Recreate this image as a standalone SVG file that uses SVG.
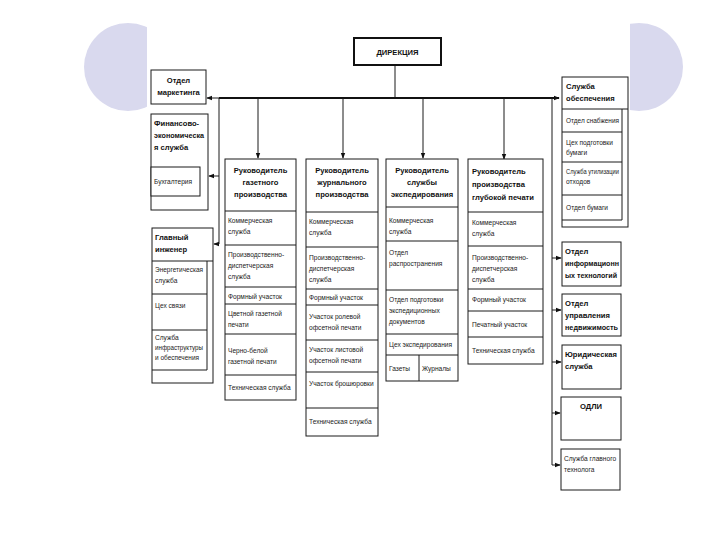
<svg xmlns="http://www.w3.org/2000/svg" width="720" height="540" viewBox="0 0 720 540">
<defs>
<style>
.bx{fill:#fff;stroke:#1a1a1a;stroke-width:1}
.ln{fill:none;stroke:#1a1a1a;stroke-width:1}
.t{font-family:"Liberation Sans Narrow","Liberation Sans",Arial,sans-serif;font-size:6.6px;fill:#222}
.h{font-family:"Liberation Sans Narrow","Liberation Sans",Arial,sans-serif;font-size:7.6px;font-weight:bold;fill:#111}
.c{text-anchor:middle}
</style>
<marker id="ar" viewBox="0 0 8 8" refX="7" refY="4" markerWidth="6" markerHeight="6" orient="auto" markerUnits="userSpaceOnUse"><path d="M0,1 L8,4 L0,7 z" fill="#111"/></marker>
</defs>
<rect width="720" height="540" fill="#fff"/>
<circle cx="128" cy="67" r="44" fill="#d9d9ee"/>
<circle cx="639" cy="67" r="44" fill="#d9d9ee"/>
<rect x="147" y="0" width="483" height="540" fill="#fff"/>

<g id="connectors">
<line class="ln" x1="395" y1="65" x2="395" y2="98"/>
<line x1="219" y1="98" x2="559" y2="98" stroke="#111" stroke-width="2" marker-end="url(#ar)"/>
<line class="ln" x1="219" y1="98" x2="207" y2="98" marker-end="url(#ar)"/>
<line class="ln" x1="219" y1="98" x2="219" y2="244"/>
<line class="ln" x1="219" y1="176" x2="209" y2="176" marker-end="url(#ar)"/>
<line class="ln" x1="219" y1="244" x2="214" y2="244" marker-end="url(#ar)"/>
<line class="ln" x1="258" y1="98" x2="258" y2="158" marker-end="url(#ar)"/>
<line class="ln" x1="343" y1="98" x2="343" y2="158" marker-end="url(#ar)"/>
<line class="ln" x1="423" y1="98" x2="423" y2="158" marker-end="url(#ar)"/>
<line class="ln" x1="504" y1="98" x2="504" y2="159" marker-end="url(#ar)"/>
<line class="ln" x1="552" y1="98" x2="552" y2="465"/>
<line class="ln" x1="552" y1="258" x2="561" y2="258" marker-end="url(#ar)"/>
<line class="ln" x1="552" y1="310" x2="561" y2="310" marker-end="url(#ar)"/>
<line class="ln" x1="552" y1="362" x2="561" y2="362" marker-end="url(#ar)"/>
<line class="ln" x1="552" y1="413" x2="560" y2="413" marker-end="url(#ar)"/>
<line class="ln" x1="552" y1="465" x2="560" y2="465" marker-end="url(#ar)"/>
</g>

<g id="direction">
<rect x="354" y="38" width="87" height="27" fill="#fff" stroke="#111" stroke-width="2"/>
<text class="h c" x="397.5" y="55">ДИРЕКЦИЯ</text>
</g>

<g id="marketing">
<rect class="bx" x="151" y="70" width="55" height="34"/>
<text class="h c" x="178.5" y="83">Отдел</text>
<text class="h c" x="178.5" y="95">маркетинга</text>
</g>

<g id="finance">
<rect class="bx" x="151" y="114" width="57" height="96"/>
<rect class="bx" x="151" y="167" width="49" height="29"/>
<text class="h" x="154" y="126">Финансово-</text>
<text class="h" x="154" y="138" textLength="50" lengthAdjust="spacingAndGlyphs">экономическа</text>
<text class="h" x="154" y="150">я служба</text>
<text class="t" x="154" y="184">Бухгалтерия</text>
</g>

<g id="chief-engineer">
<rect class="bx" x="152" y="228" width="61" height="155"/>
<line class="ln" x1="152" y1="261" x2="213" y2="261"/>
<line class="ln" x1="207" y1="261" x2="207" y2="370"/>
<line class="ln" x1="152" y1="294" x2="207" y2="294"/>
<line class="ln" x1="152" y1="330" x2="207" y2="330"/>
<line class="ln" x1="152" y1="370" x2="207" y2="370"/>
<text class="h" x="155" y="240">Главный</text>
<text class="h" x="155" y="252">инженер</text>
<text class="t" x="155" y="272" textLength="48" lengthAdjust="spacingAndGlyphs">Энергетическая</text>
<text class="t" x="155" y="283">служба</text>
<text class="t" x="155" y="308">Цех связи</text>
<text class="t" x="155" y="340">Служба</text>
<text class="t" x="155" y="350" textLength="48" lengthAdjust="spacingAndGlyphs">инфраструктуры</text>
<text class="t" x="155" y="360" textLength="44" lengthAdjust="spacingAndGlyphs">и обеспечения</text>
</g>

<g id="gazet">
<rect class="bx" x="225" y="159" width="71" height="241"/>
<line class="ln" x1="225" y1="211" x2="296" y2="211"/>
<line class="ln" x1="225" y1="245" x2="296" y2="245"/>
<line class="ln" x1="225" y1="287" x2="296" y2="287"/>
<line class="ln" x1="225" y1="304" x2="296" y2="304"/>
<line class="ln" x1="225" y1="334" x2="296" y2="334"/>
<line class="ln" x1="225" y1="375" x2="296" y2="375"/>
<text class="h c" x="260.5" y="173">Руководитель</text>
<text class="h c" x="260.5" y="185">газетного</text>
<text class="h c" x="260.5" y="197">производства</text>
<text class="t" x="228" y="223">Коммерческая</text>
<text class="t" x="228" y="234">служба</text>
<text class="t" x="228" y="257">Производственно-</text>
<text class="t" x="228" y="268">диспетчерская</text>
<text class="t" x="228" y="279">служба</text>
<text class="t" x="228" y="299">Формный участок</text>
<text class="t" x="228" y="316">Цветной газетной</text>
<text class="t" x="228" y="327">печати</text>
<text class="t" x="228" y="353">Черно-белой</text>
<text class="t" x="228" y="364">газетной печати</text>
<text class="t" x="228" y="390">Техническая служба</text>
</g>

<g id="journal">
<rect class="bx" x="306" y="159" width="72" height="277"/>
<line class="ln" x1="306" y1="212" x2="378" y2="212"/>
<line class="ln" x1="306" y1="247" x2="378" y2="247"/>
<line class="ln" x1="306" y1="289" x2="378" y2="289"/>
<line class="ln" x1="306" y1="305" x2="378" y2="305"/>
<line class="ln" x1="306" y1="340" x2="378" y2="340"/>
<line class="ln" x1="306" y1="372" x2="378" y2="372"/>
<line class="ln" x1="306" y1="408" x2="378" y2="408"/>
<text class="h c" x="342" y="173">Руководитель</text>
<text class="h c" x="342" y="185">журнального</text>
<text class="h c" x="342" y="197">производства</text>
<text class="t" x="309" y="224">Коммерческая</text>
<text class="t" x="309" y="235">служба</text>
<text class="t" x="309" y="260">Производственно-</text>
<text class="t" x="309" y="271">диспетчерская</text>
<text class="t" x="309" y="282">служба</text>
<text class="t" x="309" y="300">Формный участок</text>
<text class="t" x="309" y="319">Участок ролевой</text>
<text class="t" x="309" y="330">офсетной печати</text>
<text class="t" x="309" y="352">Участок листовой</text>
<text class="t" x="309" y="363">офсетной печати</text>
<text class="t" x="309" y="386">Участок брошюровки</text>
<text class="t" x="309" y="424">Техническая служба</text>
</g>

<g id="expedition">
<rect class="bx" x="386" y="159" width="72" height="222"/>
<line class="ln" x1="386" y1="207" x2="458" y2="207"/>
<line class="ln" x1="386" y1="241" x2="458" y2="241"/>
<line class="ln" x1="386" y1="290" x2="458" y2="290"/>
<line class="ln" x1="386" y1="334" x2="458" y2="334"/>
<line class="ln" x1="386" y1="355" x2="458" y2="355"/>
<line class="ln" x1="419" y1="355" x2="419" y2="381"/>
<text class="h c" x="422" y="173">Руководитель</text>
<text class="h c" x="422" y="185">службы</text>
<text class="h c" x="422" y="197">экспедирования</text>
<text class="t" x="389" y="223">Коммерческая</text>
<text class="t" x="389" y="234">служба</text>
<text class="t" x="389" y="255">Отдел</text>
<text class="t" x="389" y="266">распространения</text>
<text class="t" x="389" y="302">Отдел подготовки</text>
<text class="t" x="389" y="313">экспедиционных</text>
<text class="t" x="389" y="324">документов</text>
<text class="t" x="389" y="347">Цех экспедирования</text>
<text class="t" x="389" y="371">Газеты</text>
<text class="t" x="422" y="371">Журналы</text>
</g>

<g id="deep-print">
<rect class="bx" x="468" y="159" width="75" height="205"/>
<line class="ln" x1="468" y1="212" x2="543" y2="212"/>
<line class="ln" x1="468" y1="246" x2="543" y2="246"/>
<line class="ln" x1="468" y1="289" x2="543" y2="289"/>
<line class="ln" x1="468" y1="311" x2="543" y2="311"/>
<line class="ln" x1="468" y1="337" x2="543" y2="337"/>
<text class="h" x="472" y="174">Руководитель</text>
<text class="h" x="472" y="187">производства</text>
<text class="h" x="472" y="200">глубокой печати</text>
<text class="t" x="472" y="225">Коммерческая</text>
<text class="t" x="472" y="236">служба</text>
<text class="t" x="472" y="260">Производственно-</text>
<text class="t" x="472" y="271">диспетчерская</text>
<text class="t" x="472" y="282">служба</text>
<text class="t" x="472" y="302">Формный участок</text>
<text class="t" x="472" y="327">Печатный участок</text>
<text class="t" x="472" y="353">Техническая служба</text>
</g>

<g id="supply">
<rect class="bx" x="562" y="77" width="66" height="150"/>
<line class="ln" x1="562" y1="109" x2="628" y2="109"/>
<line class="ln" x1="622" y1="109" x2="622" y2="220"/>
<line class="ln" x1="562" y1="132" x2="622" y2="132"/>
<line class="ln" x1="562" y1="162" x2="622" y2="162"/>
<line class="ln" x1="562" y1="195" x2="622" y2="195"/>
<line class="ln" x1="562" y1="220" x2="622" y2="220"/>
<text class="h" x="566" y="89">Служба</text>
<text class="h" x="566" y="101">обеспечения</text>
<text class="t" x="566" y="123" textLength="53" lengthAdjust="spacingAndGlyphs">Отдел снабжения</text>
<text class="t" x="566" y="145">Цех подготовки</text>
<text class="t" x="566" y="155">бумаги</text>
<text class="t" x="566" y="174" textLength="53" lengthAdjust="spacingAndGlyphs">Служба утилизации</text>
<text class="t" x="566" y="184">отходов</text>
<text class="t" x="566" y="210">Отдел бумаги</text>
</g>

<g id="it">
<rect class="bx" x="562" y="242" width="59" height="44"/>
<text class="h" x="565" y="254">Отдел</text>
<text class="h" x="565" y="266" textLength="54" lengthAdjust="spacingAndGlyphs">информационн</text>
<text class="h" x="565" y="278" textLength="52" lengthAdjust="spacingAndGlyphs">ых технологий</text>
</g>

<g id="realty">
<rect class="bx" x="562" y="294" width="59" height="42"/>
<text class="h" x="565" y="306">Отдел</text>
<text class="h" x="565" y="318">управления</text>
<text class="h" x="565" y="330" textLength="53" lengthAdjust="spacingAndGlyphs">недвижимость</text>
</g>

<g id="legal">
<rect class="bx" x="562" y="345" width="59" height="44"/>
<text class="h" x="565" y="357">Юридическая</text>
<text class="h" x="565" y="369">служба</text>
</g>

<g id="odli">
<rect class="bx" x="561" y="397" width="60" height="43"/>
<text class="h c" x="591" y="409">ОДЛИ</text>
</g>

<g id="technologist">
<rect class="bx" x="561" y="449" width="59" height="41"/>
<text class="t" x="564" y="461">Служба главного</text>
<text class="t" x="564" y="472">технолога</text>
</g>
</svg>
